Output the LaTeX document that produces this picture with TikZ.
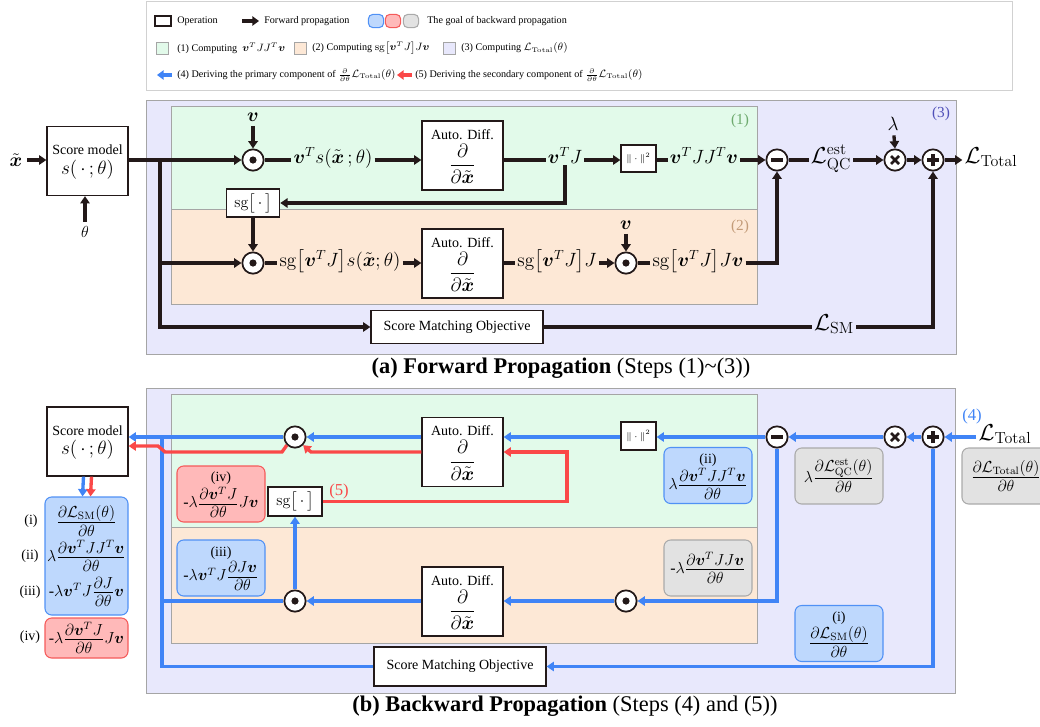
\documentclass[tikz,border=0pt]{standalone}
\usepackage{amsmath,amssymb}
\usepackage[no-math]{fontspec}
\setmainfont{Liberation Serif}
\usetikzlibrary{arrows.meta,calc}
\definecolor{lav}{RGB}{232,232,252}
\definecolor{mint}{RGB}{226,250,234}
\definecolor{peach}{RGB}{253,232,214}
\definecolor{pborder}{RGB}{165,165,165}
\definecolor{bblue}{RGB}{64,132,246}
\definecolor{rred}{RGB}{250,72,72}
\definecolor{fblack}{RGB}{35,25,25}
\definecolor{bfill}{RGB}{190,216,253}
\definecolor{bdraw}{RGB}{80,145,245}
\definecolor{rfill}{RGB}{255,185,185}
\definecolor{rdraw}{RGB}{245,90,90}
\definecolor{gfill}{RGB}{226,226,226}
\definecolor{gdraw}{RGB}{170,170,170}
\definecolor{cone}{RGB}{110,170,110}
\definecolor{ctwo}{RGB}{195,155,120}
\definecolor{cthree}{RGB}{80,80,185}
\newcommand{\bv}{\boldsymbol{v}}
\newcommand{\bxt}{\tilde{\boldsymbol{x}}}
\newcommand{\LL}{\mathcal{L}}
\newcommand{\sgop}{\mathrm{sg}}
\newcommand{\tfr}[2]{{\textstyle\frac{\textstyle #1\rule[-2.2pt]{0pt}{1pt}}{\textstyle\rule{0pt}{9.8pt}#2}}}
\newcommand{\stk}[2]{\begin{tabular}{@{}c@{}}#1\\#2\end{tabular}}
\newcommand{\adtext}{\stk{Auto. Diff.}{\Large$\displaystyle\frac{\partial}{\partial\bxt}$}}
\begin{document}
\begin{tikzpicture}[x=0.75pt,y=-0.75pt,font=\fontsize{10.5}{12.5}\selectfont,
 op/.style={draw=fblack,fill=white,line width=0.9pt,align=center,inner sep=0pt},
 circ/.style={circle,draw=fblack,fill=white,line width=1.3pt,minimum size=16pt,inner sep=0pt},
 odot/.style={circ,path picture={\fill[fblack] (path picture bounding box.center) circle (2.7pt);}},
 ominus/.style={circ,path picture={\draw[fblack,line width=2.4pt] ([xshift=-4.5pt]path picture bounding box.center) -- ([xshift=4.5pt]path picture bounding box.center);}},
 oplus/.style={circ,path picture={\draw[fblack,line width=2.4pt] ([xshift=-4.5pt]path picture bounding box.center) -- ([xshift=4.5pt]path picture bounding box.center) ([yshift=-4.5pt]path picture bounding box.center) -- ([yshift=4.5pt]path picture bounding box.center);}},
 otimes/.style={circ,path picture={\draw[fblack,line width=2pt] ([shift={(-3pt,-3pt)}]path picture bounding box.center) -- ([shift={(3pt,3pt)}]path picture bounding box.center) ([shift={(-3pt,3pt)}]path picture bounding box.center) -- ([shift={(3pt,-3pt)}]path picture bounding box.center);}},
 ahead/.style={-{Triangle[length=5.5pt,width=7pt]}},
 fline/.style={draw=fblack,line width=2.5pt},
 farr/.style={fline,ahead},
 bline/.style={draw=bblue,line width=2.5pt},
 barr/.style={bline,ahead},
 rline/.style={draw=rred,line width=2.5pt},
 rarr/.style={rline,ahead},
 lab/.style={anchor=mid,inner sep=1.5pt},
 goal/.style={rounded corners=5pt,line width=0.8pt,align=center,inner sep=0pt,minimum width=66pt,minimum height=42pt},
 bgoal/.style={goal,draw=bdraw,fill=bfill},
 rgoal/.style={goal,draw=rdraw,fill=rfill},
 ggoal/.style={goal,draw=gdraw,fill=gfill},
 panel/.style={draw=pborder,line width=0.7pt},
 adbox/.style={op,minimum width=60.75pt,minimum height=51.75pt},
 smbox/.style={op,minimum width=60.75pt,minimum height=51.75pt},
]
\useasboundingbox (0,0) rectangle (1040,726);

% ---------------- Legend ----------------
\draw[draw=black!18,line width=0.6pt] (146,1) rectangle (1012,90);
\begin{scope}[font=\fontsize{7.6}{9}\selectfont]
\node[op,minimum width=12pt,minimum height=7.5pt] (lg1) at (163,21) {};
\node[anchor=west,inner sep=0pt] (lg1t) at (177,21) {Operation};
\coordinate (lga) at (242,21); \coordinate (lgb) at (259,21);
\draw[fline,line width=3pt,-{Triangle[length=5pt,width=7pt]}] (lga) -- (lgb);
\node[anchor=west,inner sep=0pt] (lg2t) at (264,21) {Forward propagation};
\node[bgoal,minimum width=11.5pt,minimum height=10pt,rounded corners=3.5pt] (sw1) at (376,21) {};
\node[rgoal,minimum width=11.5pt,minimum height=10pt,rounded corners=3.5pt] (sw2) at (393,21) {};
\node[ggoal,minimum width=11.5pt,minimum height=10pt,rounded corners=3.5pt] (sw3) at (411,21) {};
\node[anchor=west,inner sep=0pt] (lg3t) at (427,21) {The goal of backward propagation};
\node[draw=pborder,fill=mint,minimum size=9pt,inner sep=0pt] (sq1) at (162,48) {};
\node[anchor=west,inner sep=0pt] (sq1t) at (177,48) {(1) Computing \ $\bv^{T}JJ^{T}\bv$};
\node[draw=pborder,fill=peach,minimum size=9pt,inner sep=0pt] (sq2) at (300,48) {};
\node[anchor=west,inner sep=0pt] (sq2t) at (312,48) {(2) Computing $\sgop\bigl[\bv^{T}J\bigr]J\bv$};
\node[draw=pborder,fill=lav,minimum size=9pt,inner sep=0pt] (sq3) at (449,48) {};
\node[anchor=west,inner sep=0pt] (sq3t) at (461,48) {(3) Computing $\LL_{\mathrm{Total}}(\theta)$};
\coordinate (lba) at (172,75); \coordinate (lbb) at (157,75);
\draw[bline,line width=3pt,-{Triangle[length=5pt,width=7pt]}] (lba) -- (lbb);
\node[anchor=west,inner sep=0pt] (lg4t) at (177,75) {(4) Deriving the primary component of $\frac{\partial}{\partial\theta}\LL_{\mathrm{Total}}(\theta)$};
\coordinate (lra) at (412,75); \coordinate (lrb) at (397,75);
\draw[rline,line width=3pt,-{Triangle[length=5pt,width=7pt]}] (lra) -- (lrb);
\node[anchor=west,inner sep=0pt] (lg5t) at (415,75) {(5) Deriving the secondary component of $\frac{\partial}{\partial\theta}\LL_{\mathrm{Total}}(\theta)$};
\end{scope}

% ---------------- Forward panel ----------------
\filldraw[panel,fill=lav] (146,100) rectangle (956,354);
\filldraw[panel,fill=mint] (171,106) rectangle (757,209);
\filldraw[panel,fill=peach] (171,209) rectangle (757,304);
\node[text=cone,font=\fontsize{11.5}{13}\selectfont] (n1) at (740,121) {(1)};
\node[text=ctwo,font=\fontsize{11.5}{13}\selectfont] (n2) at (740,227) {(2)};
\node[text=cthree,font=\fontsize{11.5}{13}\selectfont] (n3) at (941,114) {(3)};

\node (xt) at (16,160) {\Large$\bxt$};
\node[smbox] (sm) at (87.5,161) {\stk{Score model}{\Large$s(\,\cdot\,;\theta)$}};
\node (th) at (85,232) {\large$\theta$};
\node[odot] (o1) at (253,160) {};
\node (v1) at (253,117) {\Large$\bv$};
\node[lab] (l1) at (333,160) {\Large$\bv^{T}s(\bxt\,;\theta)$};
\node[adbox] (ad1) at (462.5,155.5) {\adtext};
\node[lab] (l2) at (565,160) {\Large$\bv^{T}J$};
\node[op,minimum width=26.25pt,minimum height=20.25pt] (nrm) at (638.5,158.5) {\scriptsize$\|\cdot\|^2$};
\node[lab] (l3) at (704,160) {\Large$\bv^{T}JJ^{T}\bv$};
\node[ominus] (mi) at (777,160) {};
\node[lab] (lqc) at (831,160) {\LARGE$\LL^{\mathrm{est}}_{\mathrm{QC}}$};
\node[otimes] (ti) at (895,160) {};
\node (lam) at (893,124) {\Large$\lambda$};
\node[oplus] (pl) at (933,160) {};
\node[lab] (lt) at (991,160) {\LARGE$\LL_{\mathrm{Total}}$};
\node[op,minimum width=40pt,minimum height=21pt] (sg) at (253,203) {\large$\sgop\bigl[\,\cdot\,\bigr]$};
\node[odot] (o2) at (253,263) {};
\node[lab] (l4) at (340,263) {\Large$\sgop\bigl[\bv^{T}J\bigr]s(\bxt;\theta)$};
\node[adbox] (ad2) at (462.5,263.5) {\adtext};
\node[lab] (l5) at (557,263) {\Large$\sgop\bigl[\bv^{T}J\bigr]J$};
\node[odot] (o3) at (626,263) {};
\node (v2) at (626,225) {\Large$\bv$};
\node[lab] (l6) at (698,263) {\Large$\sgop\bigl[\bv^{T}J\bigr]J\bv$};
\node[op,minimum width=129pt,minimum height=24.75pt] (smo) at (457,327) {Score Matching Objective};
\node[lab] (lsm) at (834,327) {\LARGE$\LL_{\mathrm{SM}}$};
\coordinate (br) at (160,160);

\draw[farr] (xt.east) -- (sm.west |- xt.east);
\draw[farr] (th.north) -- (th.north |- sm.south);
\draw[farr] (sm.east |- o1) -- (o1.west);
\draw[farr] (br) |- (o2.west);
\draw[farr] (br) |- (smo.west);
\draw[farr] (v1) -- (o1.north);
\draw[fline] (o1.east) -- (l1.mid west);
\draw[farr] (l1.mid east) -- (l1.mid east -| ad1.west);
\draw[fline] (ad1.east |- l2.mid west) -- (l2.mid west);
\draw[farr] (l2.mid east) -- (l2.mid east -| nrm.west);
\draw[farr] (l2.south) |- (sg.east);
\draw[fline] (nrm.east |- l3.mid west) -- (l3.mid west);
\draw[farr] (l3.mid east) -- (mi.west);
\draw[fline] (mi.east) -- (lqc.mid west);
\draw[farr] (lqc.mid east) -- (ti.west);
\draw[farr] (ti.east) -- (pl.west);
\draw[farr] (pl.east) -- (lt.mid west);
\draw[farr] (lam) -- (ti.north);
\draw[farr] (sg.south) -- (o2.north);
\draw[fline] (o2.east) -- (l4.mid west);
\draw[farr] (l4.mid east) -- (l4.mid east -| ad2.west);
\draw[fline] (ad2.east |- l5.mid west) -- (l5.mid west);
\draw[farr] (l5.mid east) -- (o3.west);
\draw[farr] (v2) -- (o3.north);
\draw[fline] (o3.east) -- (l6.mid west);
\draw[farr] (l6.mid east) -| (mi.south);
\draw[fline] (smo.east) -- (lsm.mid west);
\draw[farr] (lsm.mid east) -| (pl.south);

\node (capa) at (561,368) {\fontsize{16.8}{19}\selectfont\textbf{(a) Forward Propagation} (Steps (1)\textasciitilde(3))};

% ---------------- Backward panel ----------------
\filldraw[panel,fill=lav] (146,388) rectangle (955,693);
\filldraw[panel,fill=mint] (171,394) rectangle (757,527);
\filldraw[panel,fill=peach] (171,527) rectangle (757,643);

\node[smbox] (bsm) at (87.5,441.5) {\stk{Score model}{\Large$s(\,\cdot\,;\theta)$}};
\node[odot] (bo1) at (295,437) {};
\node[adbox] (bad1) at (462.5,452) {\adtext};
\node[op,minimum width=26.25pt,minimum height=21pt] (bnrm) at (638.5,436) {\scriptsize$\|\cdot\|^2$};
\node[ominus] (bmi) at (777,437) {};
\node[otimes] (bti) at (895,437) {};
\node[oplus] (bpl) at (933,437) {};
\node[lab] (blt) at (1005,437) {\LARGE$\LL_{\mathrm{Total}}$};
\node[text=bblue,font=\fontsize{12.5}{14}\selectfont] (n4) at (972,416) {(4)};
\node[op,minimum width=40.5pt,minimum height=21.75pt] (bsg) at (295,501.5) {\large$\sgop\bigl[\,\cdot\,\bigr]$};
\node[text=rred,font=\fontsize{12.5}{14}\selectfont] (n5) at (339,491) {(5)};
\node[odot] (bo2) at (295,601) {};
\node[odot] (bo3) at (626,601) {};
\node[adbox] (bad2) at (462.5,601.5) {\adtext};
\node[op,minimum width=129pt,minimum height=29.25pt] (bsmo) at (460,666.5) {Score Matching Objective};
\coordinate (bj) at (162,437);
\coordinate (rc) at (567,480);
\coordinate (r1) at (311,452);
\coordinate (r2) at (282,452);
\coordinate (r3) at (165,452);
\coordinate (r4) at (158,446);

\node[rgoal] (g4) at (221,494) {\stk{(iv)}{\large -$\lambda\tfr{\partial\bv^{T}J}{\partial\theta}J\bv$}};
\node[bgoal] (g3) at (221,568) {\stk{(iii)}{\large -$\lambda\bv^{T}J\tfr{\partial J\bv}{\partial\theta}$}};
\node[bgoal] (g2) at (708,475.5) {\stk{(ii)}{\large$\lambda\tfr{\partial\bv^{T}JJ^{T}\bv}{\partial\theta}$}};
\node[ggoal] (ga) at (708,568) {\large -$\lambda\tfr{\partial\bv^{T}JJ\bv}{\partial\theta}$};
\node[ggoal] (gb) at (839,476) {\large$\lambda\tfr{\partial\LL^{\mathrm{est}}_{\mathrm{QC}}(\theta)}{\partial\theta}$};
\node[bgoal] (g1) at (839,633.5) {\stk{(i)}{\large$\tfr{\partial\LL_{\mathrm{SM}}(\theta)}{\partial\theta}$}};
\node[ggoal] (gc) at (1006,476) {\large$\tfr{\partial\LL_{\mathrm{Total}}(\theta)}{\partial\theta}$};

\node[bgoal,minimum width=62.25pt,minimum height=88.5pt] (resb) at (86.5,556) {};
\node[rgoal,minimum width=62.25pt,minimum height=30pt] (resr) at (86.5,638) {};
\node (e1) at (86.5,521) {\large$\tfr{\partial\LL_{\mathrm{SM}}(\theta)}{\partial\theta}$};
\node (e2) at (86.5,556) {\large$\lambda\tfr{\partial\bv^{T}JJ^{T}\bv}{\partial\theta}$};
\node (e3) at (86.5,592) {\large -$\lambda\bv^{T}J\tfr{\partial J}{\partial\theta}\bv$};
\node (e4) at (86.5,638) {\large -$\lambda\tfr{\partial\bv^{T}J}{\partial\theta}J\bv$};
\node (i1) at (31,521) {(i)};
\node (i2) at (30,556) {(ii)};
\node (i3) at (30,592) {(iii)};
\node (i4) at (30,637) {(iv)};

\draw[barr] (blt.mid west) -- (bpl.east);
\draw[barr] (bpl.west) -- (bti.east);
\draw[barr] (bti.west) -- (bmi.east);
\draw[barr] (bmi.west) -- (bnrm.east |- bmi);
\draw[barr] (bnrm.west |- bmi) -- (bad1.east |- bmi);
\draw[barr] (bad1.west |- bo1) -- (bo1.east);
\draw[barr] (bo1.west) -- (bo1.west -| bsm.east);
\draw[bline] (bsmo.west) -| (bj);
\draw[bline] (bo2.west) -- (bo2.west -| bj);
\draw[barr] (bmi.south) |- (bo3.east);
\draw[barr] (bo3.west) -- (bo3.west -| bad2.east);
\draw[barr] (bad2.west |- bo2) -- (bo2.east);
\draw[barr] (bo2.north) -- (bsg.south);
\draw[barr] (bpl.south) |- (bsmo.east);
\draw[rarr] (bsg.east) -| (rc) |- (bad1.east);
\draw[rarr] (bad1.west) -- (r1) -- (bo1.south east);
\draw[rarr] (bo1.south west) -- (r2) -- (r3) -- (r4) -- (r4 -| bsm.east);
\draw[barr] ($(bsm.south)+(-4,0)$) -- ($(resb.north)+(-4,0)$);
\draw[rarr] ($(bsm.south)+(4,0)$) -- ($(resb.north)+(4,0)$);

\node (capb) at (565,706) {\fontsize{16.8}{19}\selectfont\textbf{(b) Backward Propagation} (Steps (4) and (5))};
\end{tikzpicture}
\end{document}
